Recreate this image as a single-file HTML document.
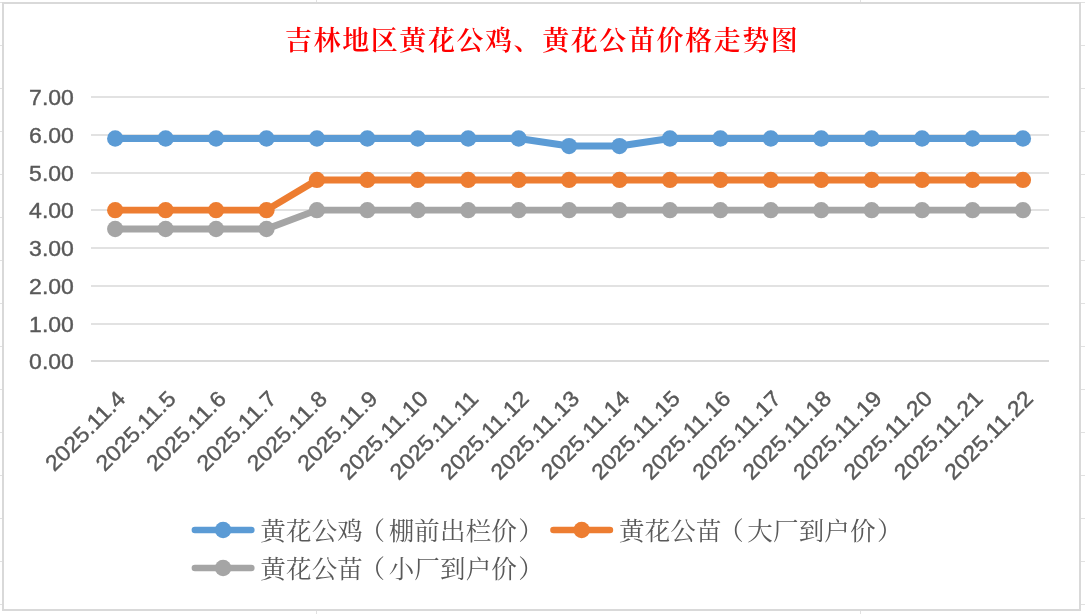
<!DOCTYPE html>
<html lang="zh-CN">
<head>
<meta charset="utf-8">
<title>吉林地区黄花公鸡、黄花公苗价格走势图</title>
<style>
html,body{margin:0;padding:0;background:#fff;}
body{width:1085px;height:614px;overflow:hidden;position:relative;}
svg{position:absolute;left:0;top:0;display:block;}
.ax{font-family:"Liberation Sans",sans-serif;font-size:21.9px;fill:#595959;stroke:#595959;stroke-width:0.4px;}
.ttl{font-family:"Liberation Serif","Noto Serif CJK SC",serif;font-weight:600;font-size:27px;fill:#ff0000;}
.lg{font-family:"Liberation Serif","Noto Serif CJK SC",serif;font-size:25.5px;fill:#595959;}
</style>
</head>
<body>
<svg width="1085" height="614" viewBox="0 0 1085 614">

<g stroke="#e1e1e1" stroke-width="1" shape-rendering="crispEdges">
<line x1="0" y1="45.5" x2="2" y2="45.5"/>
<line x1="1081" y1="45.5" x2="1085" y2="45.5"/>
<line x1="0" y1="88.5" x2="2" y2="88.5"/>
<line x1="1081" y1="88.5" x2="1085" y2="88.5"/>
<line x1="0" y1="131.5" x2="2" y2="131.5"/>
<line x1="1081" y1="131.5" x2="1085" y2="131.5"/>
<line x1="0" y1="174.5" x2="2" y2="174.5"/>
<line x1="1081" y1="174.5" x2="1085" y2="174.5"/>
<line x1="0" y1="217.5" x2="2" y2="217.5"/>
<line x1="1081" y1="217.5" x2="1085" y2="217.5"/>
<line x1="0" y1="260.5" x2="2" y2="260.5"/>
<line x1="1081" y1="260.5" x2="1085" y2="260.5"/>
<line x1="0" y1="303.5" x2="2" y2="303.5"/>
<line x1="1081" y1="303.5" x2="1085" y2="303.5"/>
<line x1="0" y1="346.5" x2="2" y2="346.5"/>
<line x1="1081" y1="346.5" x2="1085" y2="346.5"/>
<line x1="0" y1="389.5" x2="2" y2="389.5"/>
<line x1="1081" y1="389.5" x2="1085" y2="389.5"/>
<line x1="0" y1="432.5" x2="2" y2="432.5"/>
<line x1="1081" y1="432.5" x2="1085" y2="432.5"/>
<line x1="0" y1="475.5" x2="2" y2="475.5"/>
<line x1="1081" y1="475.5" x2="1085" y2="475.5"/>
<line x1="0" y1="518.5" x2="2" y2="518.5"/>
<line x1="1081" y1="518.5" x2="1085" y2="518.5"/>
<line x1="0" y1="561.5" x2="2" y2="561.5"/>
<line x1="1081" y1="561.5" x2="1085" y2="561.5"/>
<line x1="0" y1="604.5" x2="2" y2="604.5"/>
<line x1="1081" y1="604.5" x2="1085" y2="604.5"/>
<line x1="0" y1="2.5" x2="2" y2="2.5"/>
<line x1="1081" y1="2.5" x2="1085" y2="2.5"/>
<line x1="316.5" y1="0" x2="316.5" y2="2"/>
<line x1="316.5" y1="611" x2="316.5" y2="614"/>
<line x1="860.5" y1="0" x2="860.5" y2="2"/>
<line x1="860.5" y1="611" x2="860.5" y2="614"/>
</g>
<rect x="3" y="3" width="1077" height="607" fill="#ffffff" stroke="#d9d9d9" stroke-width="2"/>
<g fill="#e2e2e2" shape-rendering="crispEdges">
<rect x="91" y="323" width="958" height="2"/>
<rect x="91" y="285" width="958" height="2"/>
<rect x="91" y="247" width="958" height="2"/>
<rect x="91" y="209" width="958" height="2"/>
<rect x="91" y="172" width="958" height="2"/>
<rect x="91" y="134" width="958" height="2"/>
<rect x="91" y="96" width="958" height="2"/>
<rect x="91" y="360" width="958" height="2" fill="#dadada"/>
</g>
<g class="ax" text-anchor="end">
<text x="73.9" y="368.60" textLength="44.8" lengthAdjust="spacingAndGlyphs">0.00</text>
<text x="73.9" y="331.60" textLength="44.8" lengthAdjust="spacingAndGlyphs">1.00</text>
<text x="73.9" y="293.60" textLength="44.8" lengthAdjust="spacingAndGlyphs">2.00</text>
<text x="73.9" y="255.60" textLength="44.8" lengthAdjust="spacingAndGlyphs">3.00</text>
<text x="73.9" y="217.60" textLength="44.8" lengthAdjust="spacingAndGlyphs">4.00</text>
<text x="73.9" y="180.60" textLength="44.8" lengthAdjust="spacingAndGlyphs">5.00</text>
<text x="73.9" y="142.60" textLength="44.8" lengthAdjust="spacingAndGlyphs">6.00</text>
<text x="73.9" y="104.60" textLength="44.8" lengthAdjust="spacingAndGlyphs">7.00</text>
</g>
<polyline points="115.20,138.49 165.63,138.49 216.06,138.49 266.49,138.49 316.92,138.49 367.35,138.49 417.78,138.49 468.21,138.49 518.64,138.49 569.07,146.03 619.50,146.03 669.93,138.49 720.36,138.49 770.79,138.49 821.22,138.49 871.65,138.49 922.08,138.49 972.51,138.49 1022.94,138.49" fill="none" stroke="#5b9bd5" stroke-width="6.9" stroke-linejoin="round" stroke-linecap="round"/>
<g fill="#5b9bd5">
<circle cx="115.20" cy="138.49" r="8.15"/>
<circle cx="165.63" cy="138.49" r="8.15"/>
<circle cx="216.06" cy="138.49" r="8.15"/>
<circle cx="266.49" cy="138.49" r="8.15"/>
<circle cx="316.92" cy="138.49" r="8.15"/>
<circle cx="367.35" cy="138.49" r="8.15"/>
<circle cx="417.78" cy="138.49" r="8.15"/>
<circle cx="468.21" cy="138.49" r="8.15"/>
<circle cx="518.64" cy="138.49" r="8.15"/>
<circle cx="569.07" cy="146.03" r="8.15"/>
<circle cx="619.50" cy="146.03" r="8.15"/>
<circle cx="669.93" cy="138.49" r="8.15"/>
<circle cx="720.36" cy="138.49" r="8.15"/>
<circle cx="770.79" cy="138.49" r="8.15"/>
<circle cx="821.22" cy="138.49" r="8.15"/>
<circle cx="871.65" cy="138.49" r="8.15"/>
<circle cx="922.08" cy="138.49" r="8.15"/>
<circle cx="972.51" cy="138.49" r="8.15"/>
<circle cx="1022.94" cy="138.49" r="8.15"/>
</g>
<polyline points="115.20,210.14 165.63,210.14 216.06,210.14 266.49,210.14 316.92,179.97 367.35,179.97 417.78,179.97 468.21,179.97 518.64,179.97 569.07,179.97 619.50,179.97 669.93,179.97 720.36,179.97 770.79,179.97 821.22,179.97 871.65,179.97 922.08,179.97 972.51,179.97 1022.94,179.97" fill="none" stroke="#ed7d31" stroke-width="6.9" stroke-linejoin="round" stroke-linecap="round"/>
<g fill="#ed7d31">
<circle cx="115.20" cy="210.14" r="8.15"/>
<circle cx="165.63" cy="210.14" r="8.15"/>
<circle cx="216.06" cy="210.14" r="8.15"/>
<circle cx="266.49" cy="210.14" r="8.15"/>
<circle cx="316.92" cy="179.97" r="8.15"/>
<circle cx="367.35" cy="179.97" r="8.15"/>
<circle cx="417.78" cy="179.97" r="8.15"/>
<circle cx="468.21" cy="179.97" r="8.15"/>
<circle cx="518.64" cy="179.97" r="8.15"/>
<circle cx="569.07" cy="179.97" r="8.15"/>
<circle cx="619.50" cy="179.97" r="8.15"/>
<circle cx="669.93" cy="179.97" r="8.15"/>
<circle cx="720.36" cy="179.97" r="8.15"/>
<circle cx="770.79" cy="179.97" r="8.15"/>
<circle cx="821.22" cy="179.97" r="8.15"/>
<circle cx="871.65" cy="179.97" r="8.15"/>
<circle cx="922.08" cy="179.97" r="8.15"/>
<circle cx="972.51" cy="179.97" r="8.15"/>
<circle cx="1022.94" cy="179.97" r="8.15"/>
</g>
<polyline points="115.20,229.00 165.63,229.00 216.06,229.00 266.49,229.00 316.92,210.14 367.35,210.14 417.78,210.14 468.21,210.14 518.64,210.14 569.07,210.14 619.50,210.14 669.93,210.14 720.36,210.14 770.79,210.14 821.22,210.14 871.65,210.14 922.08,210.14 972.51,210.14 1022.94,210.14" fill="none" stroke="#a5a5a5" stroke-width="6.9" stroke-linejoin="round" stroke-linecap="round"/>
<g fill="#a5a5a5">
<circle cx="115.20" cy="229.00" r="8.15"/>
<circle cx="165.63" cy="229.00" r="8.15"/>
<circle cx="216.06" cy="229.00" r="8.15"/>
<circle cx="266.49" cy="229.00" r="8.15"/>
<circle cx="316.92" cy="210.14" r="8.15"/>
<circle cx="367.35" cy="210.14" r="8.15"/>
<circle cx="417.78" cy="210.14" r="8.15"/>
<circle cx="468.21" cy="210.14" r="8.15"/>
<circle cx="518.64" cy="210.14" r="8.15"/>
<circle cx="569.07" cy="210.14" r="8.15"/>
<circle cx="619.50" cy="210.14" r="8.15"/>
<circle cx="669.93" cy="210.14" r="8.15"/>
<circle cx="720.36" cy="210.14" r="8.15"/>
<circle cx="770.79" cy="210.14" r="8.15"/>
<circle cx="821.22" cy="210.14" r="8.15"/>
<circle cx="871.65" cy="210.14" r="8.15"/>
<circle cx="922.08" cy="210.14" r="8.15"/>
<circle cx="972.51" cy="210.14" r="8.15"/>
<circle cx="1022.94" cy="210.14" r="8.15"/>
</g>
<g class="ax" text-anchor="end">
<text transform="translate(126.70,400.00) rotate(-45)" textLength="102.3" lengthAdjust="spacingAndGlyphs">2025.11.4</text>
<text transform="translate(177.13,400.00) rotate(-45)" textLength="102.3" lengthAdjust="spacingAndGlyphs">2025.11.5</text>
<text transform="translate(227.56,400.00) rotate(-45)" textLength="102.3" lengthAdjust="spacingAndGlyphs">2025.11.6</text>
<text transform="translate(277.99,400.00) rotate(-45)" textLength="102.3" lengthAdjust="spacingAndGlyphs">2025.11.7</text>
<text transform="translate(328.42,400.00) rotate(-45)" textLength="102.3" lengthAdjust="spacingAndGlyphs">2025.11.8</text>
<text transform="translate(378.85,400.00) rotate(-45)" textLength="102.3" lengthAdjust="spacingAndGlyphs">2025.11.9</text>
<text transform="translate(429.28,400.00) rotate(-45)" textLength="114.4" lengthAdjust="spacingAndGlyphs">2025.11.10</text>
<text transform="translate(479.71,400.00) rotate(-45)" textLength="114.4" lengthAdjust="spacingAndGlyphs">2025.11.11</text>
<text transform="translate(530.14,400.00) rotate(-45)" textLength="114.4" lengthAdjust="spacingAndGlyphs">2025.11.12</text>
<text transform="translate(580.57,400.00) rotate(-45)" textLength="114.4" lengthAdjust="spacingAndGlyphs">2025.11.13</text>
<text transform="translate(631.00,400.00) rotate(-45)" textLength="114.4" lengthAdjust="spacingAndGlyphs">2025.11.14</text>
<text transform="translate(681.43,400.00) rotate(-45)" textLength="114.4" lengthAdjust="spacingAndGlyphs">2025.11.15</text>
<text transform="translate(731.86,400.00) rotate(-45)" textLength="114.4" lengthAdjust="spacingAndGlyphs">2025.11.16</text>
<text transform="translate(782.29,400.00) rotate(-45)" textLength="114.4" lengthAdjust="spacingAndGlyphs">2025.11.17</text>
<text transform="translate(832.72,400.00) rotate(-45)" textLength="114.4" lengthAdjust="spacingAndGlyphs">2025.11.18</text>
<text transform="translate(883.15,400.00) rotate(-45)" textLength="114.4" lengthAdjust="spacingAndGlyphs">2025.11.19</text>
<text transform="translate(933.58,400.00) rotate(-45)" textLength="114.4" lengthAdjust="spacingAndGlyphs">2025.11.20</text>
<text transform="translate(984.01,400.00) rotate(-45)" textLength="114.4" lengthAdjust="spacingAndGlyphs">2025.11.21</text>
<text transform="translate(1034.44,400.00) rotate(-45)" textLength="114.4" lengthAdjust="spacingAndGlyphs">2025.11.22</text>
</g>
<text class="ttl" x="285.0" y="50.0" textLength="512.8" lengthAdjust="spacing">吉林地区黄花公鸡、黄花公苗价格走势图</text>
<line x1="194.9" y1="530.0" x2="251.3" y2="530.0" stroke="#5b9bd5" stroke-width="6.6" stroke-linecap="round"/>
<circle cx="223.1" cy="530.0" r="8.3" fill="#5b9bd5"/>
<text class="lg" x="260.3" y="539.5" dx="0 0 0 0 -3.5 3.5 0 0 0 0 1.3" textLength="283.5" lengthAdjust="spacing">黄花公鸡（棚前出栏价）</text>
<line x1="553.5" y1="530.0" x2="609.9" y2="530.0" stroke="#ed7d31" stroke-width="6.6" stroke-linecap="round"/>
<circle cx="581.7" cy="530.0" r="8.3" fill="#ed7d31"/>
<text class="lg" x="619.0" y="539.5" dx="0 0 0 0 -3.5 3.5 0 0 0 0 1.3" textLength="283.5" lengthAdjust="spacing">黄花公苗（大厂到户价）</text>
<line x1="194.9" y1="568.0" x2="251.3" y2="568.0" stroke="#a5a5a5" stroke-width="6.6" stroke-linecap="round"/>
<circle cx="223.1" cy="568.0" r="8.3" fill="#a5a5a5"/>
<text class="lg" x="260.3" y="578.1" dx="0 0 0 0 -3.5 3.5 0 0 0 0 1.3" textLength="283.5" lengthAdjust="spacing">黄花公苗（小厂到户价）</text>
</svg>
</body>
</html>
